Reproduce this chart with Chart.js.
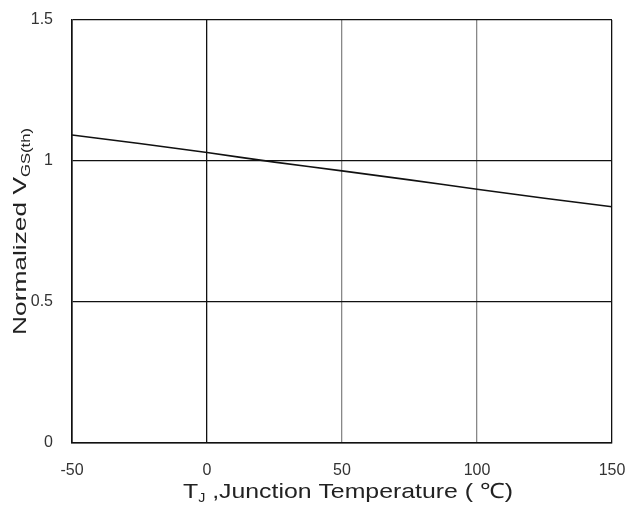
<!DOCTYPE html>
<html>
<head>
<meta charset="utf-8">
<script src="https://cdn.jsdelivr.net/npm/chart.js@4"></script>
<style>
html,body{margin:0;padding:0;background:#fff;}
#wrap{width:627px;height:507px;position:relative;}
</style>
</head>
<body>
<div id="wrap"><canvas id="c" width="627" height="507"></canvas></div>
<script>
// Data
const temperatures = [-50, -25, 0, 25, 50, 75, 100, 125, 150];
const normalizedVgs = [1.092, 1.062, 1.030, 0.996, 0.965, 0.933, 0.900, 0.868, 0.838];
const xTicks = [-50, 0, 50, 100, 150];
const yTicks = [0, 0.5, 1, 1.5];

const FONT = "'Liberation Sans', Arial, sans-serif";

function drawParts(ctx, parts, x0, y0, targetW) {
  let w = 0;
  parts.forEach(p => { ctx.font = p[1]; w += ctx.measureText(p[0]).width; });
  const k = targetW / w;
  ctx.save();
  ctx.translate(x0, y0);
  ctx.scale(k, 1);
  let x = 0;
  parts.forEach(p => { ctx.font = p[1]; ctx.fillText(p[0], x, p[2]); x += ctx.measureText(p[0]).width; });
  ctx.restore();
}

const titlePlugin = {
  id: 'titles',
  afterDraw(chart) {
    const ctx = chart.ctx;
    ctx.save();
    ctx.fillStyle = '#222';
    ctx.textBaseline = 'alphabetic';
    ctx.textAlign = 'left';
    const mainF = '21px ' + FONT, subF = '12px ' + FONT;
    drawParts(ctx, [['T', mainF, 0], ['J', subF, 4], [' ,Junction Temperature ( \u2103)', mainF, 0]], 183, 498, 330);
    ctx.translate(26, 0);
    ctx.rotate(-Math.PI / 2);
    drawParts(ctx, [['Normalized V', '19px ' + FONT, 0], ['GS(th)', subF, 4]], -335, 0, 207);
    ctx.restore();
  }
};

new Chart(document.getElementById('c'), {
  type: 'line',
  data: {
    labels: temperatures,
    datasets: [{
      data: temperatures.map((t, i) => ({x: t, y: normalizedVgs[i]})),
      borderColor: '#111',
      borderWidth: 1.6,
      pointRadius: 0,
      tension: 0.3,
      fill: false
    }]
  },
  options: {
    responsive: false,
    animation: false,
    devicePixelRatio: 1,
    layout: {padding: {top: 20, right: 15, left: 0, bottom: 0}},
    plugins: {legend: {display: false}, tooltip: {enabled: false}},
    scales: {
      x: {
        type: 'linear', min: -50, max: 150,
        afterBuildTicks: s => { s.ticks = xTicks.map(v => ({value: v})); },
        afterFit: s => { s.height = 64; s.paddingLeft = 0; s.paddingRight = 0; },
        grid: {
          drawTicks: false,
          color: ctx => (ctx.tick && (ctx.tick.value === 50 || ctx.tick.value === 100)) ? '#888' : '#111',
          lineWidth: 1.3
        },
        border: {color: '#111', width: 1.6},
        ticks: {color: '#333', font: {family: FONT, size: 16}, padding: 18, maxRotation: 0, autoSkip: false}
      },
      y: {
        min: 0, max: 1.5,
        afterBuildTicks: s => { s.ticks = yTicks.map(v => ({value: v})); },
        afterFit: s => { s.width = 72; s.paddingTop = 0; s.paddingBottom = 0; },
        grid: {drawTicks: false, color: '#111', lineWidth: 1.3},
        border: {color: '#111', width: 1.6},
        ticks: {color: '#333', font: {family: FONT, size: 16}, padding: 19, callback: v => String(v)}
      }
    }
  },
  plugins: [titlePlugin]
});
</script>
</body>
</html>
